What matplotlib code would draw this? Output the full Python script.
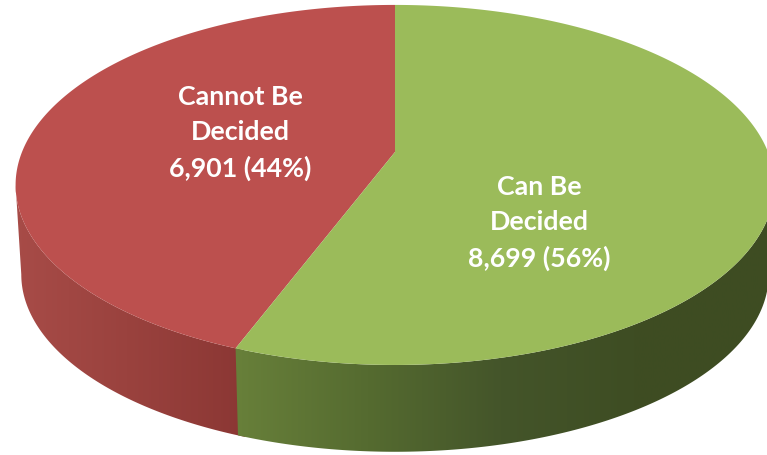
import numpy as np
import matplotlib
matplotlib.use('Agg')
import matplotlib.pyplot as plt
from matplotlib.colors import LinearSegmentedColormap
from matplotlib.patches import Polygon

plt.rcParams['font.family'] = ['Lato', 'DejaVu Sans']

labels = ['Cannot Be\nDecided', 'Can Be\nDecided']
values = [6901, 8699]
top_colors = ['#bc504e', '#9bbb5a']
label_pos = [(240, 133), (539, 223)]

side_red = ['#a84c48', '#9a423e', '#8b3734']
side_green = ['#68803a', '#556b30', '#44552a', '#3e4d23', '#3e4c22']

# perspective of the pie, worked out from the picture
CX, CY = 395, 152
RX, RY = 373, 174
TILT = 0.183
DEPTH = 90


def rim(theta, scale=1.0, drop=0):
	# theta counts counter clockwise from the top of the pie
	x = -np.sin(theta)
	y = np.cos(theta)
	w = 1 + TILT * y
	return CX + scale * RX * x / w, CY + drop - scale * RY * y / w


def sideShape(start, end):
	t = np.linspace(start, end, 200)
	x1, y1 = rim(t)
	x2, y2 = rim(t[::-1], 0.985, DEPTH)
	return np.column_stack([np.r_[x1, x2], np.r_[y1, y2]])


fig = plt.figure(figsize=(7.67, 4.55), dpi=100)
ax = fig.add_axes([0, 0, 1, 1])
ax.set_xlim(0, 767)
ax.set_ylim(455, 0)
ax.axis('off')

total = sum(values)
edges = np.r_[0, np.cumsum(values)] / total * 2 * np.pi

# the wall is seen between the two points where the rim turns back
turn = np.arccos(-TILT)
walls = [(turn, edges[1] + 0.02, side_red, 10, 245),
	(edges[1], 2 * np.pi - turn, side_green, 234, 767)]
for start, end, colors, x0, x1 in walls:
	cmap = LinearSegmentedColormap.from_list('wall', colors)
	img = ax.imshow(np.linspace(0, 1, 256)[None, :], cmap=cmap, aspect='auto',
		extent=(x0, x1, 455, 0), zorder=1)
	patch = Polygon(sideShape(start, end), closed=True, transform=ax.transData,
		facecolor='none', edgecolor='none')
	ax.add_patch(patch)
	img.set_clip_path(patch)

ax.set_xlim(0, 767)
ax.set_ylim(455, 0)

for i in range(len(values)):
	t = np.linspace(edges[i], edges[i + 1], 300)
	x, y = rim(t)
	ax.fill(np.r_[CX, x], np.r_[CY, y], color=top_colors[i], lw=0, zorder=2)

for i in range(len(values)):
	share = round(values[i] / total * 100)
	text = labels[i] + '\n' + format(values[i], ',') + ' (' + str(share) + '%)'
	ax.text(label_pos[i][0], label_pos[i][1], text, color='white', fontsize=19.3,
		fontweight='bold', ha='center', va='center', linespacing=1.55, zorder=3)

fig.savefig('out.png', dpi=100)
